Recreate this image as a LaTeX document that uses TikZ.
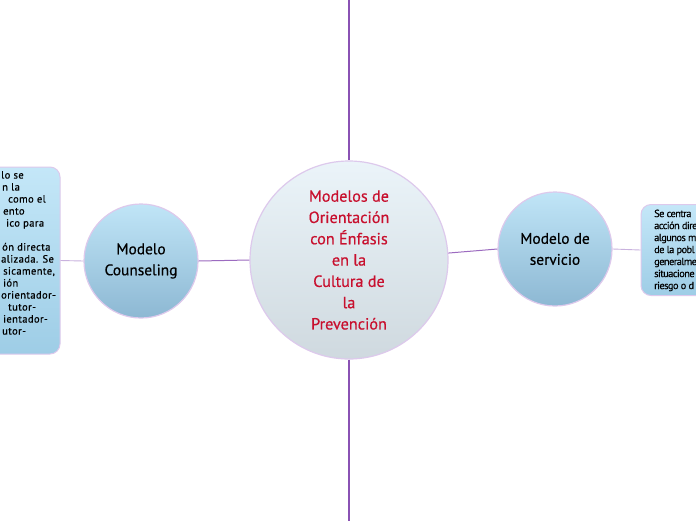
\documentclass[tikz,border=0pt]{standalone}
\usepackage{fontspec}
\setmainfont{PT Sans}[FakeBold=0.5]
\newfontfamily\lboxfont{PT Sans}[FakeBold=0.5, LetterSpace=4]
\newfontfamily\rboxfont{PT Sans}[FakeBold=0.5, LetterSpace=-5]
\definecolor{purp}{HTML}{8A52B4}
\definecolor{purpl}{HTML}{9C6BC0}
\definecolor{lav}{HTML}{DDC9EC}
\definecolor{lavline}{HTML}{C9B2DE}
\definecolor{cenTop}{HTML}{EBF4F9}
\definecolor{cenBot}{HTML}{CFD9DF}
\definecolor{blTop}{HTML}{C0E5F7}
\definecolor{blBot}{HTML}{8DB8D3}
\definecolor{bxTop}{HTML}{C4E7F8}
\definecolor{bxBot}{HTML}{9ECDE6}
\definecolor{redtxt}{HTML}{C8102E}
\begin{document}
\begin{tikzpicture}[x=1pt,y=-1pt,
  topic/.style={circle, draw=lav, line width=1.2pt, top color=cenTop, bottom color=cenBot,
    minimum size=198pt, inner sep=0pt, align=center, text=redtxt,
    font=\fontsize{16.2}{21.3}\selectfont},
  sub/.style={circle, draw=lav, line width=1.2pt, top color=blTop, bottom color=blBot,
    minimum size=114pt, inner sep=0pt, align=center, text=black,
    font=\fontsize{15.4}{21}\selectfont},
  note/.style={rectangle, rounded corners=10pt, draw=lav, line width=1pt,
    top color=bxTop, bottom color=bxBot, inner sep=0pt},
  notetext/.style={inner sep=0pt, align=left, text=black},
  strong/.style={draw=purp, line width=1.8pt},
  mid/.style={draw=purpl, line width=1pt},
  light/.style={draw=lavline, line width=0.9pt}]
\useasboundingbox (0,0) rectangle (696,520);
\clip (0,0) rectangle (696,520);
\fill[white] (0,0) rectangle (696,520);

\coordinate (topend) at (349,-2);
\coordinate (botend) at (349,522);

% boxes
\node[note, minimum width=85pt, minimum height=187pt] (lbox) at (17.5,260.5) {};
\node[note, minimum width=120pt, minimum height=91pt] (rbox) at (701,250) {};

% circles
\node[topic] (center) at (349,260) {Modelos de\\Orientación\\con Énfasis\\en la\\Cultura de\\la\\Prevención};
\node[sub] (couns) at (141,261) {Modelo\\Counseling};
\node[sub] (serv) at (555,249) {Modelo de\\servicio};

% connectors
\draw[strong] (topend) -- (center.north);
\draw[strong] (center.south) -- (botend);
\draw[mid] (center.west) -- (couns.east);
\draw[mid] (center.4) -- (serv.west);
\draw[light] (couns.west) -- (lbox.east);
\draw[light] (serv.east) -- (rbox.west);

% box texts
\node[notetext, anchor=north west, font=\lboxfont\fontsize{10.5}{12}\selectfont] (ltext) at (0,171) {%
\hspace*{1pt}lo se\\
\hspace*{2pt}n la\\
\hspace*{8pt}como el\\
\hspace*{3pt}ento\\
\hspace*{6pt}ico para\\
\mbox{}\\
\hspace*{2pt}ón directa\\
\hspace*{1pt}alizada. Se\\
\hspace*{3pt}sicamente,\\
\hspace*{3pt}ión\\
\hspace*{1pt}orientador-\\
\hspace*{8pt}tutor-\\
\hspace*{3pt}ientador-\\
\hspace*{2pt}utor-};
\node[notetext, anchor=north west, font=\rboxfont\fontsize{10.3}{12}\selectfont] (rtext) at (654,209.5) {%
Se centra\\
acción dire\\
algunos m\\
de la pobl\\
generalme\\
situacione\\
riesgo o d};
\end{tikzpicture}
\end{document}
